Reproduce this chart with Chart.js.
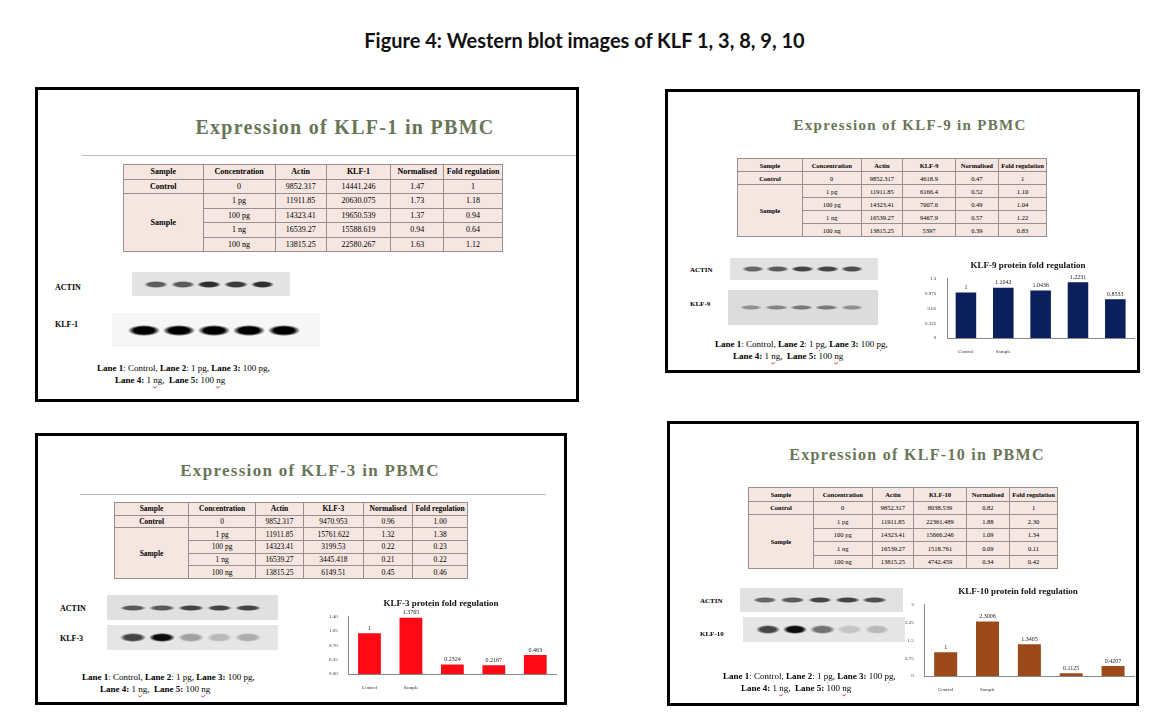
<!DOCTYPE html>
<html>
<head>
<meta charset="utf-8">
<script src="https://cdn.jsdelivr.net/npm/chart.js@4.4.0/dist/chart.umd.min.js"></script>
<style>
body { margin:0; width:1169px; height:714px; background:#fff; position:relative; overflow:hidden; font-family:"Liberation Serif", serif; }
.fig { position:absolute; left:0; top:28px; width:1169px; text-align:center; font-family:Lato, sans-serif; font-weight:bold; font-size:20px; color:#111; }
.panel { position:absolute; border:3px solid #000; box-sizing:border-box; background:#fff; }
.ttl { position:absolute; text-align:center; font-weight:bold; color:#6a7558; letter-spacing:1.3px; }
.rule { position:absolute; height:1px; background:#bbb; }
table { position:absolute; border-collapse:collapse; background:#f6e6e2; font-size:8px; table-layout:fixed; }
td { border:1px solid #9a8f8c; text-align:center; padding:0; }
th { border:1px solid #9a8f8c; font-weight:bold; padding:0; }
.lbl { position:absolute; font-size:8px; font-weight:bold; }
.blot { position:absolute; background:#ececec; overflow:hidden; }
.band { position:absolute; border-radius:50%; }
.cap { position:absolute; font-size:9px; line-height:12px; }
.cap u { text-decoration:underline wavy #c33; text-decoration-thickness:1px; }
.chartbox { position:absolute; }
</style>
</head>
<body>
<div class="fig">Figure 4: Western blot images of KLF 1, 3, 8, 9, 10</div>

<div class="panel" style="left:35px;top:87px;width:544px;height:315px;"></div>
<div class="panel" style="left:665px;top:89px;width:475px;height:284px;"></div>
<div class="panel" style="left:35px;top:433px;width:532px;height:272px;"></div>
<div class="panel" style="left:667px;top:421px;width:472px;height:285px;"></div>

<canvas id="c9" class="chartbox" style="left:922px;top:258px;width:216px;height:100px;"></canvas>
<canvas id="c3" class="chartbox" style="left:326px;top:596px;width:234px;height:98px;"></canvas>
<canvas id="c10" class="chartbox" style="left:902px;top:584px;width:236px;height:112px;"></canvas>

<script>
// chart data
const barLabels = ['Control', 'Sample', '', '', ''];
const klf9Fold = [1, 1.1042, 1.0436, 1.2231, 0.8533];
const klf3Fold = [1, 1.3765, 0.2324, 0.2167, 0.463];
const klf10Fold = [1, 2.3006, 1.3405, 0.1125, 0.4207];
const klf9Ticks = ['0', '0.325', '0.65', '0.975', '1.3'];
const klf3Ticks = ['0.00', '0.35', '0.70', '1.05', '1.40'];
const klf10Ticks = ['0', '0.75', '1.5', '2.25', '3'];

// table data
const concentrations = ['0', '1 pg', '100 pg', '1 ng', '100 ng'];
const actin = ['9852.317', '11911.85', '14323.41', '16539.27', '13815.25'];
const klf1Vals = ['14441.246', '20630.075', '19650.539', '15588.619', '22580.267'];
const klf1Norm = ['1.47', '1.73', '1.37', '0.94', '1.63'];
const klf1FoldTxt = ['1', '1.18', '0.94', '0.64', '1.12'];
const klf9Vals = ['4618.9', '6166.4', '7007.6', '9467.9', '5397'];
const klf9Norm = ['0.47', '0.52', '0.49', '0.57', '0.39'];
const klf9FoldTxt = ['1', '1.10', '1.04', '1.22', '0.83'];
const klf3Vals = ['9470.953', '15761.622', '3199.53', '3445.418', '6149.51'];
const klf3Norm = ['0.96', '1.32', '0.22', '0.21', '0.45'];
const klf3FoldTxt = ['1.00', '1.38', '0.23', '0.22', '0.46'];
const klf10Vals = ['8038.539', '22361.489', '15666.246', '1518.761', '4742.459'];
const klf10Norm = ['0.82', '1.88', '1.09', '0.09', '0.34'];
const klf10FoldTxt = ['1', '2.30', '1.34', '0.11', '0.42'];

function el(html) {
    const d = document.createElement('div');
    d.innerHTML = html;
    const n = d.firstElementChild;
    document.body.appendChild(n);
    return n;
}

function makeTable(name, vals, norm, fold, left, top, width, height, fs) {
    let rows = '<colgroup><col style="width:21%"><col style="width:19%"><col style="width:13.5%"><col style="width:17%"><col style="width:14%"><col style="width:15.5%"></colgroup>';
    rows += '<tr><th>Sample</th><th>Concentration</th><th>Actin</th><th>' + name + '</th><th>Normalised</th><th>Fold regulation</th></tr>';
    for (let i = 0; i < 5; i++) {
        rows += '<tr>';
        if (i === 0) rows += '<th>Control</th>';
        if (i === 1) rows += '<th rowspan="4">Sample</th>';
        rows += '<td>' + concentrations[i] + '</td><td>' + actin[i] + '</td><td>' + vals[i] + '</td><td>' + norm[i] + '</td><td>' + fold[i] + '</td></tr>';
    }
    const t = document.createElement('table');
    t.innerHTML = rows;
    t.style.left = left + 'px';
    t.style.top = top + 'px';
    t.style.width = width + 'px';
    t.style.height = height + 'px';
    t.style.fontSize = fs + 'px';
    document.body.appendChild(t);
}

function makeBlot(left, top, width, height, strength, bandH, bg) {
    const b = el('<div class="blot"></div>');
    Object.assign(b.style, { left: left + 'px', top: top + 'px', width: width + 'px', height: height + 'px', background: bg });
    const lanes = strength.length;
    const lw = width * 0.84 / lanes;
    strength.forEach((s, i) => {
        const band = document.createElement('div');
        band.className = 'band';
        const a = s.toFixed(2);
        Object.assign(band.style, {
            left: (width * 0.07 + i * lw + lw * 0.05) + 'px',
            top: (height / 2 - bandH / 2) + 'px',
            width: (lw * 0.9) + 'px',
            height: bandH + 'px',
            background: 'radial-gradient(ellipse at center, rgba(0,0,0,' + a + ') 45%, rgba(0,0,0,0) 72%)'
        });
        b.appendChild(band);
    });
}

function caption(left, top) {
    el('<div class="cap" style="left:' + left + 'px;top:' + top + 'px;"><b>Lane 1</b>: Control, <b>Lane 2</b>: 1 <u>pg</u>, <b>Lane 3:</b> 100 <u>pg</u>,<br>&nbsp;&nbsp;&nbsp;&nbsp;&nbsp;&nbsp;&nbsp;&nbsp;<b>Lane 4:</b> 1 <u>ng</u>,&nbsp; <b>Lane 5:</b> 100 <u>ng</u></div>');
}

// KLF-1 panel
el('<div class="ttl" style="left:60px;top:116px;width:570px;font-size:20px;">Expression of KLF-1 in PBMC</div>');
el('<div class="rule" style="left:82px;top:155px;width:494px;"></div>');
makeTable('KLF-1', klf1Vals, klf1Norm, klf1FoldTxt, 123, 164, 380, 88, 8);
el('<div class="lbl" style="left:55px;top:283px;">ACTIN</div>');
makeBlot(132, 272, 158, 24, [0.6, 0.6, 0.8, 0.75, 0.8], 7, '#e4e4e4');
el('<div class="lbl" style="left:55px;top:320px;">KLF-1</div>');
makeBlot(112, 313, 208, 34, [1, 1, 1, 1, 1], 11, '#f6f6f6');
caption(97, 362);

// KLF-9 panel
el('<div class="ttl" style="left:665px;top:117px;width:490px;font-size:15px;">Expression of KLF-9 in PBMC</div>');
makeTable('KLF-9', klf9Vals, klf9Norm, klf9FoldTxt, 737, 158, 310, 79, 6.5);
el('<div class="lbl" style="left:690px;top:266px;font-size:7px;">ACTIN</div>');
makeBlot(730, 258, 148, 22, [0.55, 0.6, 0.7, 0.7, 0.65], 6, '#e2e2e2');
el('<div class="lbl" style="left:690px;top:300px;font-size:7px;">KLF-9</div>');
makeBlot(728, 290, 150, 35, [0.35, 0.4, 0.45, 0.45, 0.35], 5, '#dcdcdc');
caption(715, 338);

// KLF-3 panel
el('<div class="ttl" style="left:35px;top:461px;width:550px;font-size:17px;">Expression of KLF-3 in PBMC</div>');
el('<div class="rule" style="left:80px;top:494px;width:466px;"></div>');
makeTable('KLF-3', klf3Vals, klf3Norm, klf3FoldTxt, 114, 502, 354, 77, 7.5);
el('<div class="lbl" style="left:60px;top:604px;">ACTIN</div>');
makeBlot(107, 595, 171, 25, [0.6, 0.6, 0.7, 0.7, 0.7], 6, '#e0e0e0');
el('<div class="lbl" style="left:60px;top:634px;">KLF-3</div>');
makeBlot(107, 625, 171, 25, [0.7, 0.95, 0.3, 0.2, 0.25], 9, '#e6e6e6');
caption(82, 671);

// KLF-10 panel
el('<div class="ttl" style="left:667px;top:446px;width:500px;font-size:16px;">Expression of KLF-10 in PBMC</div>');
makeTable('KLF-10', klf10Vals, klf10Norm, klf10FoldTxt, 748, 487, 310, 82, 6.5);
el('<div class="lbl" style="left:700px;top:597px;font-size:7px;">ACTIN</div>');
makeBlot(740, 588, 163, 24, [0.55, 0.6, 0.7, 0.7, 0.65], 6, '#e2e2e2');
el('<div class="lbl" style="left:700px;top:630px;font-size:7px;">KLF-10</div>');
makeBlot(743, 617, 162, 25, [0.7, 0.95, 0.5, 0.15, 0.2], 9, '#e6e6e6');
caption(723, 670);

// value labels above bars
const valueLabels = {
    id: 'valueLabels',
    afterDatasetsDraw(chart) {
        const ctx = chart.ctx;
        const meta = chart.getDatasetMeta(0);
        ctx.save();
        ctx.font = '6px "Liberation Serif"';
        ctx.fillStyle = '#222';
        ctx.textAlign = 'center';
        ctx.textBaseline = 'bottom';
        meta.data.forEach((bar, i) => {
            ctx.fillText(String(chart.data.datasets[0].data[i]), bar.x, bar.y - 2);
        });
        ctx.restore();
    }
};

function barChart(id, title, data, color, max, tickLabels) {
    new Chart(document.getElementById(id), {
        type: 'bar',
        data: { labels: barLabels, datasets: [{ data: data, backgroundColor: color, barPercentage: 0.55, categoryPercentage: 1 }] },
        options: {
            responsive: false,
            animation: false,
            layout: { padding: { right: 4, top: 0 } },
            plugins: {
                legend: { display: false },
                tooltip: { enabled: false },
                title: { display: true, text: title, color: '#111', font: { family: 'Liberation Serif', size: 9, weight: 'bold' }, padding: { top: 2, bottom: 8 } }
            },
            scales: {
                x: {
                    grid: { display: false },
                    border: { color: '#888' },
                    ticks: { color: '#333', font: { family: 'Liberation Serif', size: 5 }, maxRotation: 0 }
                },
                y: {
                    min: 0, max: max, grid: { display: false },
                    border: { color: '#888' },
                    afterBuildTicks: axis => { axis.ticks = tickLabels.map((t, i) => ({ value: max * i / (tickLabels.length - 1) })); },
                    ticks: { color: '#333', font: { family: 'Liberation Serif', size: 5 }, callback: (v, i) => tickLabels[i] }
                }
            }
        },
        plugins: [valueLabels]
    });
}

barChart('c9', 'KLF-9 protein fold regulation', klf9Fold, '#0a1f5c', 1.3, klf9Ticks);
barChart('c3', 'KLF-3 protein fold regulation', klf3Fold, '#ff0a14', 1.4, klf3Ticks);
barChart('c10', 'KLF-10 protein fold regulation', klf10Fold, '#9c4a1a', 3, klf10Ticks);
</script>
</body>
</html>
